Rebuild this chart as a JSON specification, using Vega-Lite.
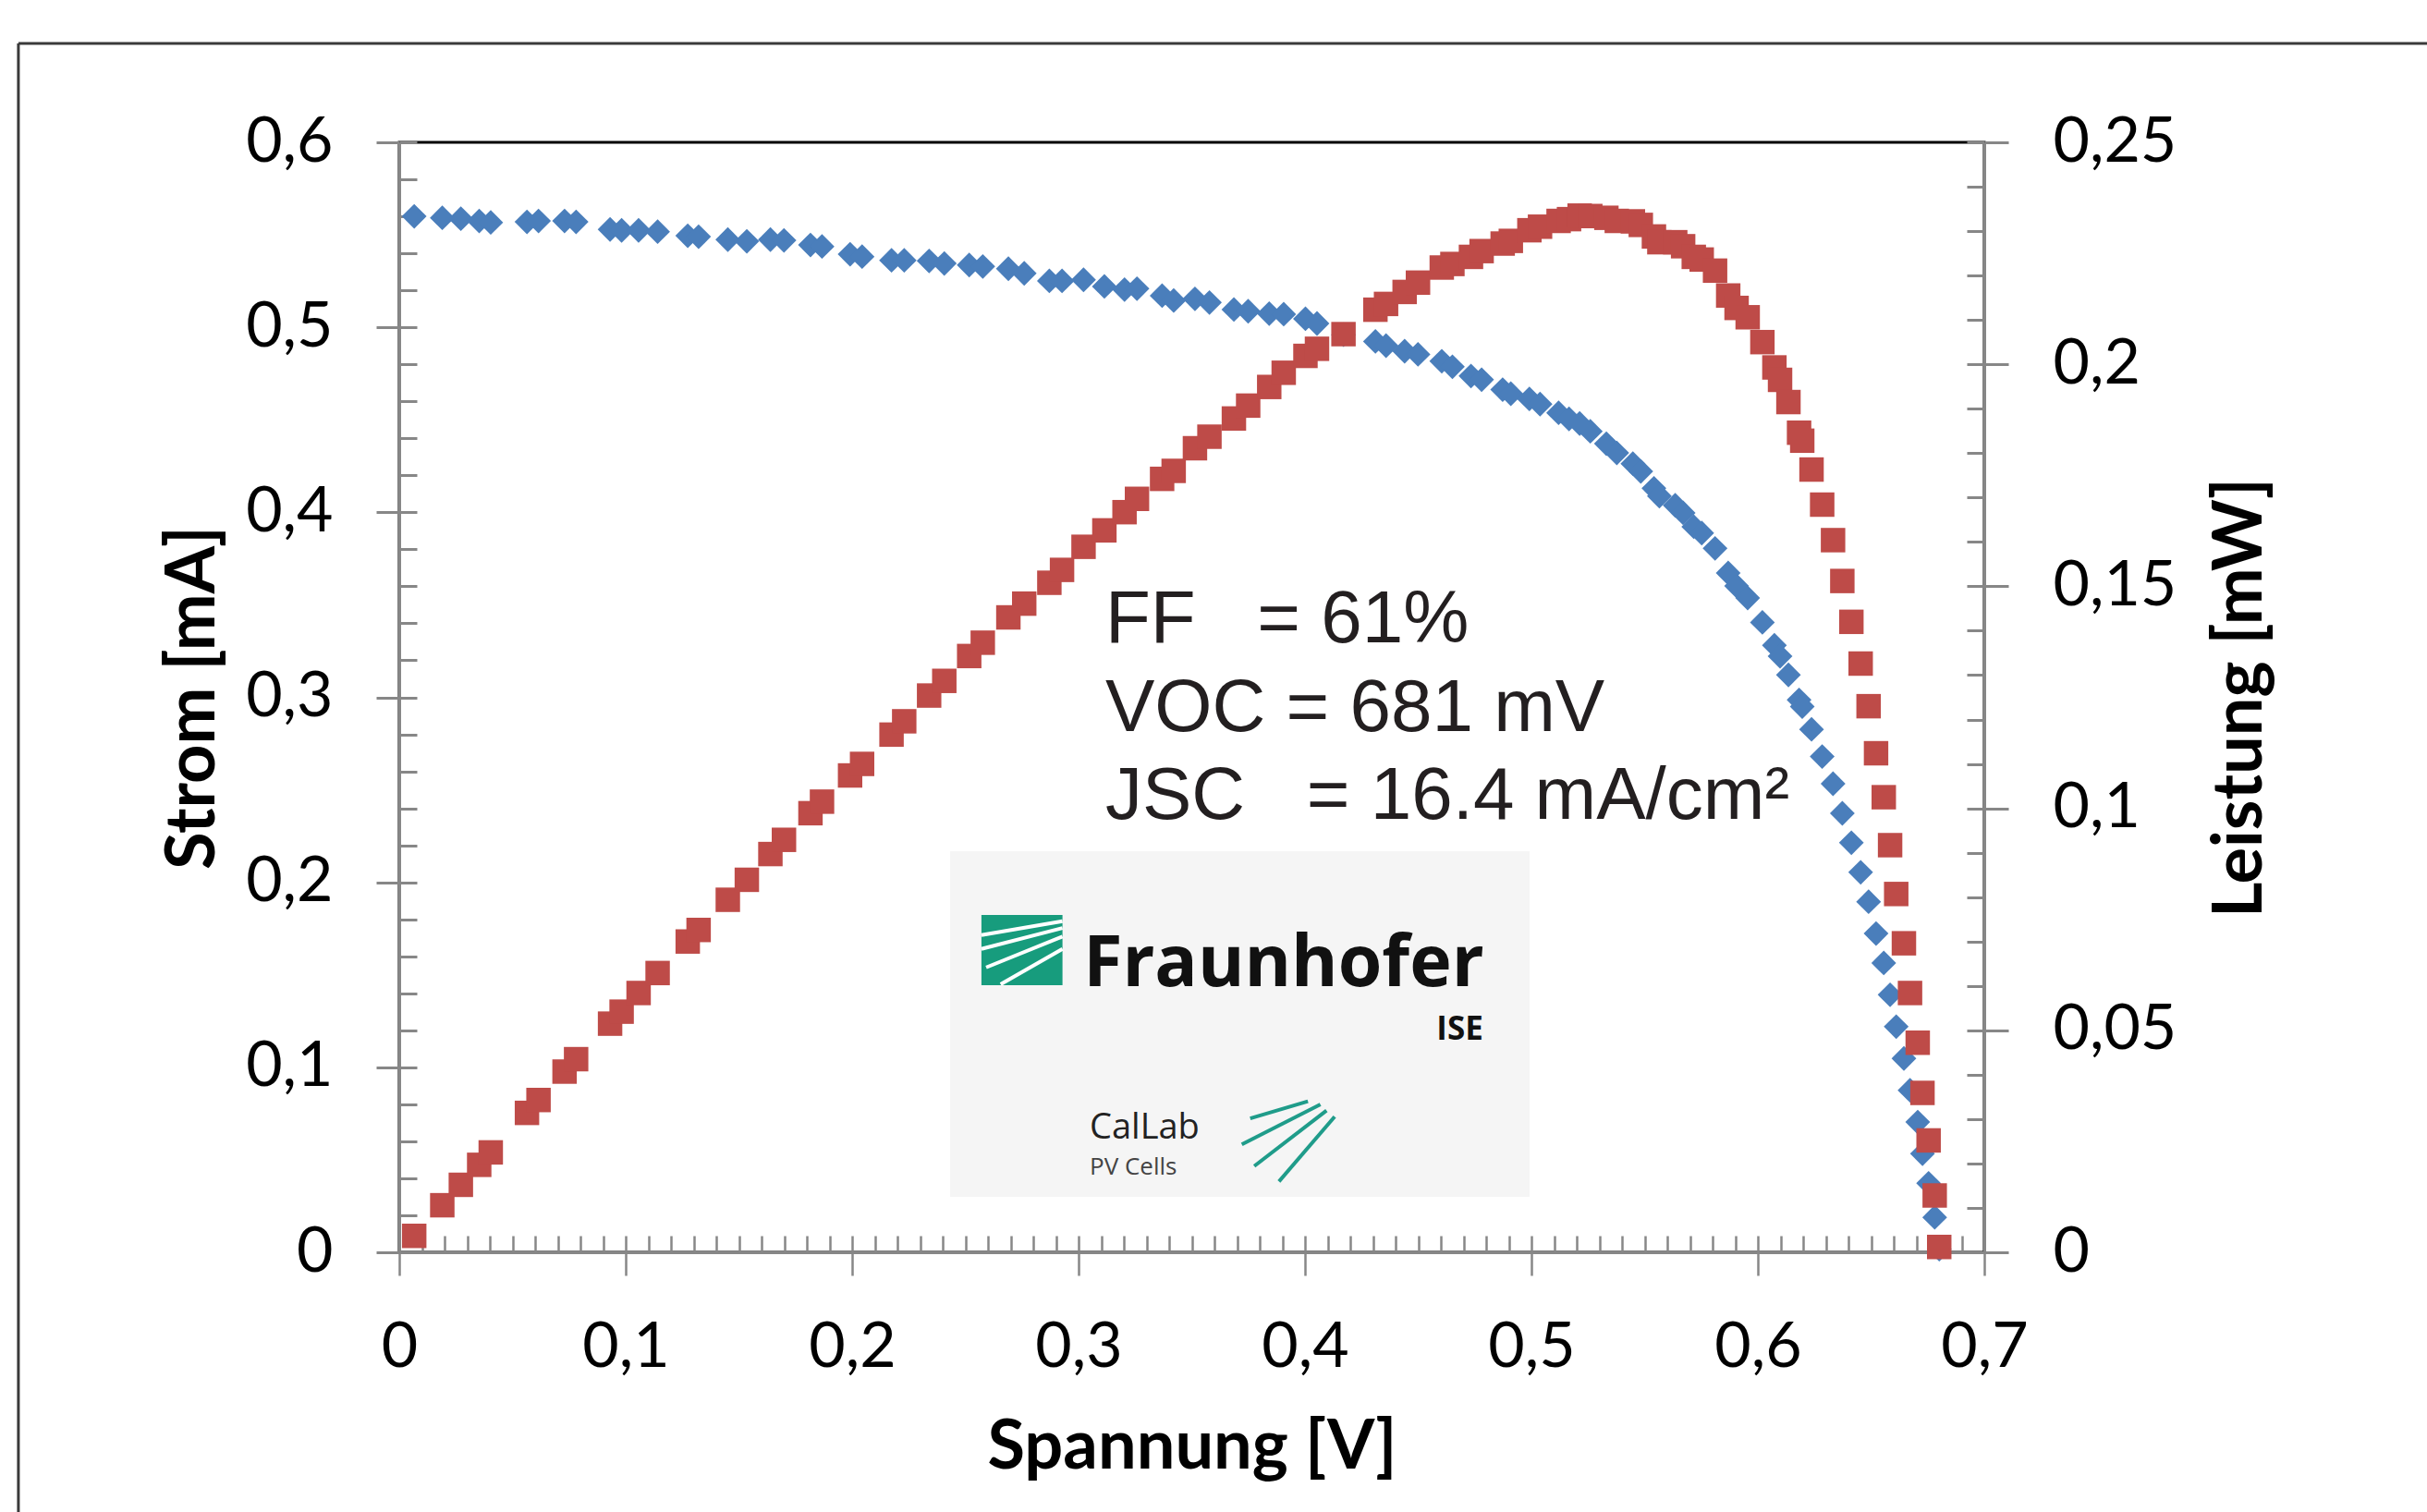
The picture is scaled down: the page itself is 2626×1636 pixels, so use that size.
{
  "$schema": "https://vega.github.io/schema/vega-lite/v6.json",
  "width": 1715,
  "height": 1201,
  "autosize": {"type": "none"},
  "padding": {"left": 432, "top": 154, "right": 479, "bottom": 281},
  "background": "white",
  "config": {
    "view": {"stroke": "#000000", "strokeWidth": 3},
    "font": "Lato",
    "axis": {
      "labelFont": "Lato", "titleFont": "Lato", "labelFontSize": 68, "titleFontSize": 74,
      "labelColor": "#000000", "titleColor": "#000000", "titleFontWeight": "bold",
      "domainColor": "#878787", "tickColor": "#878787", "domainWidth": 3, "tickWidth": 3,
      "grid": false, "labelOverlap": false, "labelFlush": false, "labelBound": false
    }
  },
  "datasets": {
    "iv": [
      {"V":0.0066,"I":0.5600,"P":0.0037},{"V":0.0190,"I":0.5592,"P":0.0106},{"V":0.0272,"I":0.5587,"P":0.0152},
      {"V":0.0353,"I":0.5575,"P":0.0197},{"V":0.0404,"I":0.5567,"P":0.0225},{"V":0.0564,"I":0.5570,"P":0.0314},
      {"V":0.0615,"I":0.5575,"P":0.0343},{"V":0.0730,"I":0.5575,"P":0.0407},{"V":0.0781,"I":0.5570,"P":0.0435},
      {"V":0.0931,"I":0.5529,"P":0.0515},{"V":0.0982,"I":0.5524,"P":0.0542},{"V":0.1057,"I":0.5524,"P":0.0584},
      {"V":0.1141,"I":0.5517,"P":0.0629},{"V":0.1274,"I":0.5495,"P":0.0700},{"V":0.1322,"I":0.5490,"P":0.0726},
      {"V":0.1451,"I":0.5474,"P":0.0794},{"V":0.1535,"I":0.5465,"P":0.0839},{"V":0.1639,"I":0.5474,"P":0.0897},
      {"V":0.1699,"I":0.5470,"P":0.0929},{"V":0.1816,"I":0.5445,"P":0.0989},{"V":0.1867,"I":0.5437,"P":0.1015},
      {"V":0.1991,"I":0.5395,"P":0.1074},{"V":0.2044,"I":0.5382,"P":0.1100},{"V":0.2174,"I":0.5362,"P":0.1166},
      {"V":0.2230,"I":0.5362,"P":0.1196},{"V":0.2340,"I":0.5359,"P":0.1254},{"V":0.2407,"I":0.5345,"P":0.1287},
      {"V":0.2517,"I":0.5337,"P":0.1343},{"V":0.2577,"I":0.5329,"P":0.1373},{"V":0.2690,"I":0.5317,"P":0.1430},
      {"V":0.2760,"I":0.5292,"P":0.1461},{"V":0.2871,"I":0.5251,"P":0.1508},{"V":0.2927,"I":0.5251,"P":0.1537},
      {"V":0.3022,"I":0.5257,"P":0.1589},{"V":0.3114,"I":0.5221,"P":0.1626},{"V":0.3203,"I":0.5204,"P":0.1667},
      {"V":0.3258,"I":0.5209,"P":0.1697},{"V":0.3369,"I":0.5171,"P":0.1742},{"V":0.3420,"I":0.5145,"P":0.1760},
      {"V":0.3514,"I":0.5154,"P":0.1811},{"V":0.3578,"I":0.5134,"P":0.1837},{"V":0.3686,"I":0.5096,"P":0.1878},
      {"V":0.3749,"I":0.5087,"P":0.1907},{"V":0.3842,"I":0.5074,"P":0.1949},{"V":0.3906,"I":0.5071,"P":0.1981},
      {"V":0.4002,"I":0.5046,"P":0.2019},{"V":0.4053,"I":0.5021,"P":0.2035},{"V":0.4170,"I":0.4960,"P":0.2068},
      {"V":0.4311,"I":0.4924,"P":0.2123},{"V":0.4358,"I":0.4901,"P":0.2136},{"V":0.4440,"I":0.4871,"P":0.2163},
      {"V":0.4499,"I":0.4854,"P":0.2184},{"V":0.4604,"I":0.4817,"P":0.2218},{"V":0.4651,"I":0.4787,"P":0.2226},
      {"V":0.4733,"I":0.4737,"P":0.2242},{"V":0.4780,"I":0.4717,"P":0.2255},{"V":0.4873,"I":0.4663,"P":0.2272},
      {"V":0.4909,"I":0.4641,"P":0.2278},{"V":0.4991,"I":0.4613,"P":0.2302},{"V":0.5038,"I":0.4585,"P":0.2310},
      {"V":0.5120,"I":0.4538,"P":0.2323},{"V":0.5166,"I":0.4505,"P":0.2327},{"V":0.5213,"I":0.4480,"P":0.2335},
      {"V":0.5260,"I":0.4438,"P":0.2334},{"V":0.5331,"I":0.4371,"P":0.2330},{"V":0.5377,"I":0.4321,"P":0.2323},
      {"V":0.5448,"I":0.4263,"P":0.2322},{"V":0.5483,"I":0.4221,"P":0.2314},{"V":0.5541,"I":0.4130,"P":0.2288},
      {"V":0.5565,"I":0.4088,"P":0.2275},{"V":0.5635,"I":0.4038,"P":0.2275},{"V":0.5670,"I":0.3997,"P":0.2266},
      {"V":0.5717,"I":0.3922,"P":0.2242},{"V":0.5752,"I":0.3888,"P":0.2236},{"V":0.5811,"I":0.3805,"P":0.2211},
      {"V":0.5869,"I":0.3672,"P":0.2155},{"V":0.5906,"I":0.3602,"P":0.2127},{"V":0.5955,"I":0.3537,"P":0.2106},
      {"V":0.6020,"I":0.3405,"P":0.2050},{"V":0.6073,"I":0.3281,"P":0.1993},{"V":0.6098,"I":0.3222,"P":0.1965},
      {"V":0.6135,"I":0.3121,"P":0.1915},{"V":0.6182,"I":0.2986,"P":0.1846},{"V":0.6196,"I":0.2950,"P":0.1828},
      {"V":0.6237,"I":0.2827,"P":0.1763},{"V":0.6284,"I":0.2680,"P":0.1684},{"V":0.6332,"I":0.2533,"P":0.1604},
      {"V":0.6373,"I":0.2373,"P":0.1512},{"V":0.6413,"I":0.2214,"P":0.1420},{"V":0.6454,"I":0.2054,"P":0.1326},
      {"V":0.6489,"I":0.1895,"P":0.1230},{"V":0.6522,"I":0.1723,"P":0.1124},{"V":0.6556,"I":0.1564,"P":0.1025},
      {"V":0.6584,"I":0.1392,"P":0.0917},{"V":0.6611,"I":0.1220,"P":0.0807},{"V":0.6645,"I":0.1048,"P":0.0696},
      {"V":0.6672,"I":0.0876,"P":0.0584},{"V":0.6706,"I":0.0704,"P":0.0472},{"V":0.6727,"I":0.0533,"P":0.0359},
      {"V":0.6754,"I":0.0373,"P":0.0252},{"V":0.6781,"I":0.0189,"P":0.0128},{"V":0.6801,"I":0.0017,"P":0.0012}
    ]
  },
  "data": {"name": "iv"},
  "layer": [
    {
      "layer": [
        {
          "data": {"values": [{}]},
          "mark": {"type": "rule", "color": "#3a3a3a", "strokeWidth": 3},
          "encoding": {
            "x": {"datum": -0.1682, "type": "quantitative", "axis": null},
            "x2": {"datum": 0.95},
            "y": {"datum": 0.6534, "type": "quantitative", "axis": null}
          }
        },
        {
          "data": {"values": [{}]},
          "mark": {"type": "rule", "color": "#3a3a3a", "strokeWidth": 3},
          "encoding": {
            "x": {"datum": -0.1682, "type": "quantitative", "axis": null},
            "y": {"datum": 0.6534, "type": "quantitative", "axis": null},
            "y2": {"datum": -0.2}
          }
        },
        {
          "data": {"values": [{}]},
          "mark": {"type": "rect", "color": "#f5f5f5"},
          "encoding": {
            "x": {"datum": 0.2433, "type": "quantitative", "axis": null},
            "x2": {"datum": 0.4992},
            "y": {"datum": 0.2168, "type": "quantitative", "axis": null},
            "y2": {"datum": 0.0300}
          }
        },
        {
          "data": {"values": [{}]},
          "mark": {"type": "rect", "color": "#179c7d"},
          "encoding": {
            "x": {"datum": 0.2571, "type": "quantitative", "axis": null},
            "x2": {"datum": 0.2929},
            "y": {"datum": 0.1823, "type": "quantitative", "axis": null},
            "y2": {"datum": 0.1444}
          }
        },
        {
          "data": {"values": [{}]},
          "mark": {"type": "rule", "color": "#ffffff", "strokeWidth": 4},
          "encoding": {
            "x": {"datum": 0.2571, "type": "quantitative", "axis": null}, "x2": {"datum": 0.2929},
            "y": {"datum": 0.1715, "type": "quantitative", "axis": null}, "y2": {"datum": 0.1790}
          }
        },
        {
          "data": {"values": [{}]},
          "mark": {"type": "rule", "color": "#ffffff", "strokeWidth": 4},
          "encoding": {
            "x": {"datum": 0.2571, "type": "quantitative", "axis": null}, "x2": {"datum": 0.2929},
            "y": {"datum": 0.1640, "type": "quantitative", "axis": null}, "y2": {"datum": 0.1753}
          }
        },
        {
          "data": {"values": [{}]},
          "mark": {"type": "rule", "color": "#ffffff", "strokeWidth": 4},
          "encoding": {
            "x": {"datum": 0.2592, "type": "quantitative", "axis": null}, "x2": {"datum": 0.2929},
            "y": {"datum": 0.1540, "type": "quantitative", "axis": null}, "y2": {"datum": 0.1707}
          }
        },
        {
          "data": {"values": [{}]},
          "mark": {"type": "rule", "color": "#ffffff", "strokeWidth": 4},
          "encoding": {
            "x": {"datum": 0.2656, "type": "quantitative", "axis": null}, "x2": {"datum": 0.2929},
            "y": {"datum": 0.1449, "type": "quantitative", "axis": null}, "y2": {"datum": 0.1640}
          }
        },
        {
          "data": {"values": [{}]},
          "mark": {"type": "rule", "color": "#1f9c8a", "strokeWidth": 4},
          "encoding": {
            "x": {"datum": 0.3758, "type": "quantitative", "axis": null}, "x2": {"datum": 0.4013},
            "y": {"datum": 0.0724, "type": "quantitative", "axis": null}, "y2": {"datum": 0.0816}
          }
        },
        {
          "data": {"values": [{}]},
          "mark": {"type": "rule", "color": "#1f9c8a", "strokeWidth": 4},
          "encoding": {
            "x": {"datum": 0.3721, "type": "quantitative", "axis": null}, "x2": {"datum": 0.4068},
            "y": {"datum": 0.0583, "type": "quantitative", "axis": null}, "y2": {"datum": 0.0799}
          }
        },
        {
          "data": {"values": [{}]},
          "mark": {"type": "rule", "color": "#1f9c8a", "strokeWidth": 4},
          "encoding": {
            "x": {"datum": 0.3776, "type": "quantitative", "axis": null}, "x2": {"datum": 0.4095},
            "y": {"datum": 0.0466, "type": "quantitative", "axis": null}, "y2": {"datum": 0.0766}
          }
        },
        {
          "data": {"values": [{}]},
          "mark": {"type": "rule", "color": "#1f9c8a", "strokeWidth": 4},
          "encoding": {
            "x": {"datum": 0.3885, "type": "quantitative", "axis": null}, "x2": {"datum": 0.4131},
            "y": {"datum": 0.0383, "type": "quantitative", "axis": null}, "y2": {"datum": 0.0733}
          }
        },
        {
          "data": {"values": [{}]},
          "mark": {"type": "text", "align": "left", "baseline": "alphabetic", "font": "Open Sans", "fontWeight": "bold", "fontSize": 77, "color": "#111111"},
          "encoding": {
            "x": {"datum": 0.3021, "type": "quantitative", "axis": null},
            "y": {"datum": 0.1440, "type": "quantitative", "axis": null},
            "text": {"value": "Fraunhofer"}
          }
        },
        {
          "data": {"values": [{}]},
          "mark": {"type": "text", "align": "right", "baseline": "alphabetic", "font": "Open Sans", "fontWeight": "bold", "fontSize": 35, "color": "#111111"},
          "encoding": {
            "x": {"datum": 0.4787, "type": "quantitative", "axis": null},
            "y": {"datum": 0.1150, "type": "quantitative", "axis": null},
            "text": {"value": "ISE"}
          }
        },
        {
          "data": {"values": [{}]},
          "mark": {"type": "text", "align": "left", "baseline": "alphabetic", "font": "Open Sans", "fontSize": 38, "color": "#222222"},
          "encoding": {
            "x": {"datum": 0.3049, "type": "quantitative", "axis": null},
            "y": {"datum": 0.0615, "type": "quantitative", "axis": null},
            "text": {"value": "CalLab"}
          }
        },
        {
          "data": {"values": [{}]},
          "mark": {"type": "text", "align": "left", "baseline": "alphabetic", "font": "Open Sans", "fontSize": 26, "color": "#444444"},
          "encoding": {
            "x": {"datum": 0.3049, "type": "quantitative", "axis": null},
            "y": {"datum": 0.0420, "type": "quantitative", "axis": null},
            "text": {"value": "PV Cells"}
          }
        },
        {
          "data": {"values": [{}]},
          "mark": {"type": "text", "align": "left", "baseline": "alphabetic", "font": "Liberation Sans", "fontSize": 80, "lineHeight": 95.5, "color": "#231f20"},
          "encoding": {
            "x": {"datum": 0.3118, "type": "quantitative", "axis": null},
            "y": {"datum": 0.3297, "type": "quantitative", "axis": null},
            "text": {"value": ["FF\u00a0\u00a0\u00a0= 61%", "VOC = 681 mV", "JSC\u00a0\u00a0\u00a0= 16.4 mA/cm²"]}
          }
        },
        {
          "mark": {"type": "point", "opacity": 0},
          "encoding": {
            "x": {
              "field": "V", "type": "quantitative",
              "scale": {"domain": [0, 0.7], "nice": false},
              "axis": {
                "orient": "bottom", "domain": false, "labels": false, "title": null, "tickSize": -18, "tickWidth": 2.5,
                "values": [0,0.01,0.02,0.03,0.04,0.05,0.06,0.07,0.08,0.09,0.1,0.11,0.12,0.13,0.14,0.15,0.16,0.17,0.18,0.19,0.2,0.21,0.22,0.23,0.24,0.25,0.26,0.27,0.28,0.29,0.3,0.31,0.32,0.33,0.34,0.35,0.36,0.37,0.38,0.39,0.4,0.41,0.42,0.43,0.44,0.45,0.46,0.47,0.48,0.49,0.5,0.51,0.52,0.53,0.54,0.55,0.56,0.57,0.58,0.59,0.6,0.61,0.62,0.63,0.64,0.65,0.66,0.67,0.68,0.69,0.7]
              }
            },
            "y": {
              "field": "I", "type": "quantitative",
              "scale": {"domain": [0, 0.6], "nice": false},
              "axis": {
                "orient": "left", "domain": false, "labels": false, "title": null, "tickSize": -19,
                "values": [0,0.02,0.04,0.06,0.08,0.1,0.12,0.14,0.16,0.18,0.2,0.22,0.24,0.26,0.28,0.3,0.32,0.34,0.36,0.38,0.4,0.42,0.44,0.46,0.48,0.5,0.52,0.54,0.56,0.58,0.6]
              }
            }
          }
        },
        {
          "mark": {"type": "point", "shape": "diamond", "filled": true, "size": 720, "color": "#4a7ebb", "opacity": 1},
          "encoding": {
            "x": {
              "field": "V", "type": "quantitative",
              "scale": {"domain": [0, 0.7], "nice": false},
              "axis": {
                "orient": "bottom", "title": "Spannung [V]", "tickSize": 25, "tickWidth": 2.5, "labelPadding": 44, "titlePadding": 38,
                "values": [0, 0.1, 0.2, 0.3, 0.4, 0.5, 0.6, 0.7],
                "labelExpr": "replace(format(datum.value, '~g'), '.', ',')"
              }
            },
            "y": {
              "field": "I", "type": "quantitative",
              "scale": {"domain": [0, 0.6], "nice": false},
              "axis": {
                "orient": "left", "title": "Strom [mA]", "tickSize": 25, "labelPadding": 47, "titlePadding": 18,
                "values": [0, 0.1, 0.2, 0.3, 0.4, 0.5, 0.6],
                "labelExpr": "replace(format(datum.value, '~g'), '.', ',')"
              }
            }
          }
        }
      ],
      "resolve": {"axis": {"x": "independent", "y": "independent"}}
    },
    {
      "layer": [
        {
          "mark": {"type": "point", "opacity": 0},
          "encoding": {
            "x": {"field": "V", "type": "quantitative", "scale": {"domain": [0, 0.7], "nice": false}, "axis": null},
            "y": {
              "field": "P", "type": "quantitative",
              "scale": {"domain": [0, 0.25], "nice": false},
              "axis": {
                "orient": "right", "domain": false, "labels": false, "title": null, "tickSize": -19,
                "values": [0,0.01,0.02,0.03,0.04,0.05,0.06,0.07,0.08,0.09,0.1,0.11,0.12,0.13,0.14,0.15,0.16,0.17,0.18,0.19,0.2,0.21,0.22,0.23,0.24,0.25]
              }
            }
          }
        },
        {
          "mark": {"type": "point", "shape": "square", "filled": true, "size": 700, "color": "#be4b48", "opacity": 1},
          "encoding": {
            "x": {"field": "V", "type": "quantitative", "scale": {"domain": [0, 0.7], "nice": false}, "axis": null},
            "y": {
              "field": "P", "type": "quantitative",
              "scale": {"domain": [0, 0.25], "nice": false},
              "axis": {
                "orient": "right", "title": "Leistung [mW]", "tickSize": 26, "labelPadding": 48, "titlePadding": 41,
                "titleAngle": 270, "titleBaseline": "top",
                "values": [0, 0.05, 0.1, 0.15, 0.2, 0.25],
                "labelExpr": "replace(format(datum.value, '~g'), '.', ',')"
              }
            }
          }
        }
      ],
      "resolve": {"axis": {"x": "independent", "y": "independent"}}
    }
  ],
  "resolve": {"scale": {"y": "independent"}, "axis": {"x": "independent", "y": "independent"}}
}
